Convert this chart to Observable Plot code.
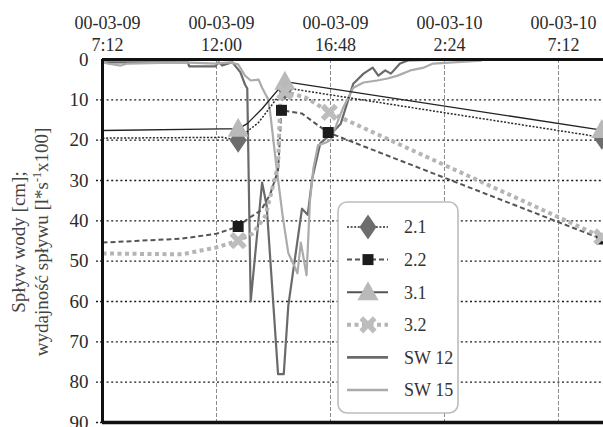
<!DOCTYPE html>
<html><head><meta charset="utf-8">
<script src="https://cdn.jsdelivr.net/npm/d3@7"></script>
<script src="https://cdn.jsdelivr.net/npm/@observablehq/plot@0.6"></script>
<style>
body{margin:0;background:#fff;}
#wrap{position:relative;width:603px;height:427px;overflow:hidden;font-family:"Liberation Serif",serif;}
#legend{position:absolute;left:337px;top:201px;}
</style></head><body><div id="wrap"></div>
<script>
// x is measured in axis intervals (the axis ticks are equally spaced)
const tickPos = [0, 1, 2, 3, 4];
const tickDates = ["00-03-09", "00-03-09", "00-03-09", "00-03-10", "00-03-10"];
const tickTimes = ["7:12", "12:00", "16:48", "2:24", "7:12"];
const xEnd = 4.395;
const yTicks = [0, 10, 20, 30, 40, 50, 60, 70, 80, 90];

// series 2.1
const s21X = [0, 1.05, 1.19, 1.28, 1.37, 1.6, 4.38];
const s21Y = [19.5, 19.3, 20, 17.6, 15.6, 7, 19.3];
const s21M = [0, 0, 1, 0, 0, 1, 1];
// series 2.2
const s22X = [0, 0.7, 1.0, 1.19, 1.28, 1.39, 1.47, 1.54, 1.57, 1.75, 1.87, 1.98, 4.38];
const s22Y = [45.4, 44.4, 43.2, 41.4, 39.4, 37.4, 33.5, 27.5, 12.6, 13.4, 15.9, 18.1, 44.5];
const s22M = [0, 0, 0, 1, 0, 0, 0, 0, 1, 0, 0, 1, 1];
// series 3.1
const s31X = [0, 1.05, 1.19, 1.27, 1.4, 1.6, 4.38];
const s31Y = [17.6, 17.2, 17.2, 15.9, 12.2, 5.5, 17.5];
const s31M = [0, 0, 1, 0, 0, 1, 1];
// series 3.2
const s32X = [0, 0.7, 1.0, 1.19, 1.32, 1.43, 1.54, 1.56, 1.6, 1.78, 1.87, 1.99, 4.38];
const s32Y = [48.1, 48.3, 46.6, 44.9, 43.1, 38.7, 26.3, 10, 8, 9.4, 10.9, 13.1, 44];
const s32M = [0, 0, 0, 1, 0, 0, 0, 0, 1, 0, 0, 1, 1];
// SW 12
const sw12X = [0, 0.75, 0.76, 0.99, 1.02, 1.05, 1.14, 1.21, 1.25, 1.27, 1.30, 1.40, 1.44, 1.54, 1.59, 1.63, 1.68, 1.75, 1.80, 1.84, 1.91, 2.0, 2.09, 2.20, 2.29, 2.37, 2.42, 2.48, 2.53, 2.61, 2.68, 3.08];
const sw12Y = [0.7, 0.7, 1.7, 1.7, 0.7, 1.5, 0.7, 3.2, 6.2, 7.2, 60, 30.5, 36.2, 78, 78, 61, 51, 37, 38.5, 29.5, 20.8, 18.6, 15.9, 6, 3.5, 2, 4, 2.7, 3.5, 1, 0.25, 0];
// SW 15
const sw15X = [0, 0.04, 0.16, 0.22, 0.71, 0.99, 1.12, 1.19, 1.25, 1.30, 1.37, 1.40, 1.45, 1.47, 1.53, 1.58, 1.63, 1.68, 1.71, 1.74, 1.76, 1.79, 1.82, 1.85, 1.89, 1.96, 2.0, 2.11, 2.20, 2.29, 2.41, 2.50, 2.59, 2.70, 2.82, 2.90, 3.32];
const sw15Y = [0.5, 1, 1.5, 1, 0.7, 1, 0.7, 1.2, 4, 5.2, 5, 7, 9.7, 13, 27.5, 38.7, 48, 51, 53, 45.4, 48.6, 53.5, 35, 27, 21.3, 20.6, 20, 12, 7, 5.7, 5.2, 4.7, 4, 2.7, 2, 1, 0.3];

const rows = (xs, ys, ms) => xs.map((x, i) => ({x, y: ys[i], m: ms ? ms[i] : 0}));
const d21 = rows(s21X, s21Y, s21M), d22 = rows(s22X, s22Y, s22M);
const d31 = rows(s31X, s31Y, s31M), d32 = rows(s32X, s32Y, s32M);
const dsw12 = rows(sw12X, sw12Y), dsw15 = rows(sw15X, sw15Y);

const k = size => Math.sqrt(size / Math.PI) / 10;
const symDiamond = {draw(c, size) {const s = k(size); c.moveTo(0, -12.5*s); c.lineTo(8.5*s, 0); c.lineTo(0, 12.5*s); c.lineTo(-8.5*s, 0); c.closePath();}};
const symTriangle = {draw(c, size) {const s = k(size); c.moveTo(0, -11*s); c.lineTo(10.5*s, 8*s); c.lineTo(-10.5*s, 8*s); c.closePath();}};
const symSquare = {draw(c, size) {const s = k(size); c.rect(-5.5*s, -5.5*s, 11*s, 11*s);}};
const symX = {draw(c, size) {
  const s = k(size), L = 9.5*s, t = 2.7*s;
  const pts = [[t,-L],[t,-t],[L,-t],[L,t],[t,t],[t,L],[-t,L],[-t,t],[-L,t],[-L,-t],[-t,-t],[-t,-L]];
  const a = Math.PI/4, co = Math.cos(a), si = Math.sin(a);
  pts.forEach(([x, y], i) => { const X = x*co - y*si, Y = x*si + y*co; i ? c.lineTo(X, Y) : c.moveTo(X, Y); });
  c.closePath();
}};

const st = {
  s21: {stroke: "#2a2a2a", strokeWidth: 1.5, strokeDasharray: "2,1.6", strokeLinecap: "butt"},
  s22: {stroke: "#555", strokeWidth: 2, strokeDasharray: "5,3", strokeLinecap: "butt"},
  s31: {stroke: "#222", strokeWidth: 1.3},
  s32: {stroke: "#b5b5b5", strokeWidth: 4, strokeDasharray: "4,3.5", strokeLinecap: "butt"},
  sw12: {stroke: "#6a6a6a", strokeWidth: 2.2},
  sw15: {stroke: "#ababab", strokeWidth: 2.2}
};

const chart = Plot.plot({
  width: 603, height: 427,
  marginLeft: 102, marginRight: 0, marginTop: 59, marginBottom: 5,
  x: {domain: [0, xEnd]},
  y: {domain: [0, 90], reverse: true},
  style: {fontFamily: "'Liberation Serif', serif", color: "#2a2a2a", background: "white", overflow: "visible"},
  marks: [
    Plot.gridY(yTicks.filter(v => v > 0 && v < 90), {stroke: "#1a1a1a", strokeOpacity: 1, strokeWidth: 1.4, strokeDasharray: "2,2.6"}),
    Plot.gridX(tickPos.filter(v => v > 0), {stroke: "#8a8a8a", strokeOpacity: 1, strokeWidth: 1, strokeDasharray: "4,2"}),
    Plot.axisX(tickPos, {anchor: "top", tickSize: 0, tickPadding: 9, dx: 5, fontSize: 18, lineHeight: 1.2,
      tickFormat: d => tickDates[tickPos.indexOf(d)] + "\n" + tickTimes[tickPos.indexOf(d)], label: null}),
    Plot.axisY(yTicks.filter(v => v > 0), {anchor: "left", tickSize: 8, tickPadding: 6, fontSize: 19, stroke: "#1a1a1a", strokeWidth: 1.4, strokeDasharray: "2,2", label: null}),
    Plot.axisY([0], {anchor: "left", tickSize: 0, tickPadding: 14, fontSize: 19, label: null}),
    Plot.line(dsw12, {x: "x", y: "y", ...st.sw12}),
    Plot.line(dsw15, {x: "x", y: "y", ...st.sw15}),
    Plot.line(d21, {x: "x", y: "y", ...st.s21}),
    Plot.line(d31, {x: "x", y: "y", ...st.s31}),
    Plot.line(d22, {x: "x", y: "y", ...st.s22}),
    Plot.line(d32, {x: "x", y: "y", ...st.s32}),
    Plot.dot(d21.filter(d => d.m), {x: "x", y: "y", symbol: symDiamond, r: 10, fill: "#6d6d6d", stroke: "none"}),
    Plot.dot(d22.filter(d => d.m), {x: "x", y: "y", symbol: symSquare, r: 10, fill: "#1c1c1c", stroke: "none"}),
    Plot.dot(d31.filter(d => d.m), {x: "x", y: "y", symbol: symTriangle, r: 10, fill: "#b9b9b9", stroke: "none"}),
    Plot.dot(d32.filter(d => d.m), {x: "x", y: "y", symbol: symX, r: 10, fill: "#bdbdbd", stroke: "none"}),
    Plot.ruleX([0], {stroke: "#111", strokeWidth: 3}),
    Plot.ruleY([0], {stroke: "#111", strokeWidth: 3}),
    Plot.ruleY([90], {stroke: "#111", strokeWidth: 3.5})
  ]
});
document.getElementById("wrap").appendChild(chart);

// y-axis title (two lines, rotated)
const svg = d3.select(chart);
svg.append("text").attr("transform", "translate(25,242) rotate(-90)")
  .attr("text-anchor", "middle").attr("font-size", 19).attr("fill", "#444").text("Spływ wody [cm];");
const t2 = svg.append("text").attr("transform", "translate(48,242) rotate(-90)")
  .attr("text-anchor", "middle").attr("font-size", 19).attr("fill", "#444");
t2.append("tspan").text("wydajność spływu [l*s");
t2.append("tspan").attr("dy", -7).attr("font-size", 12).text("-1");
t2.append("tspan").attr("dy", 7).text("x100]");

// legend
const legendItems = [
  {label: "2.1", line: st.s21, sym: symDiamond, fill: "#6d6d6d"},
  {label: "2.2", line: st.s22, sym: symSquare, fill: "#1c1c1c"},
  {label: "3.1", line: {stroke: "#555", strokeWidth: 2}, sym: symTriangle, fill: "#b9b9b9"},
  {label: "3.2", line: st.s32, sym: symX, fill: "#bdbdbd"},
  {label: "SW 12", line: {...st.sw12, strokeWidth: 2.6}, sym: null},
  {label: "SW 15", line: {...st.sw15, strokeWidth: 2.6}, sym: null}
];
const lg = d3.select("#wrap").append("svg").attr("id", "legend").attr("width", 124).attr("height", 215);
lg.append("rect").attr("x", 1).attr("y", 1).attr("width", 120).attr("height", 211).attr("rx", 9)
  .attr("fill", "white").attr("stroke", "#bdbdbd").attr("stroke-width", 1.6);
legendItems.forEach((it, i) => {
  const cy = 26 + i * 32.6;
  lg.append("line").attr("x1", 10).attr("x2", 51).attr("y1", cy).attr("y2", cy)
    .attr("stroke", it.line.stroke).attr("stroke-width", it.line.strokeWidth)
    .attr("stroke-dasharray", it.line.strokeDasharray || null);
  if (it.sym) lg.append("path").attr("transform", `translate(31,${cy})`)
    .attr("d", d3.symbol(it.sym, 100 * Math.PI)()).attr("fill", it.fill);
  lg.append("text").attr("x", 67).attr("y", cy).attr("dy", "0.35em").attr("font-size", 18)
    .attr("fill", "#333").attr("font-family", "'Liberation Serif', serif").text(it.label);
});
</script>
</body></html>
